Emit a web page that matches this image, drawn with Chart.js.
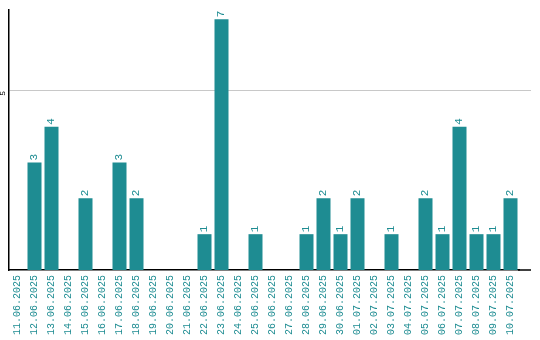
<!DOCTYPE html>
<html>
<head>
<meta charset="utf-8">
<script src="https://cdn.jsdelivr.net/npm/chart.js@4.4.0/dist/chart.umd.min.js"></script>
<style>
  html, body { margin: 0; padding: 0; background: #fff; }
  #wrap { width: 540px; height: 340px; }
</style>
</head>
<body>
<div id="wrap"><canvas id="canvas"></canvas></div>
<script>
const days = ['11.06.2025', '12.06.2025', '13.06.2025', '14.06.2025', '15.06.2025', '16.06.2025',
    '17.06.2025', '18.06.2025', '19.06.2025', '20.06.2025', '21.06.2025', '22.06.2025',
    '23.06.2025', '24.06.2025', '25.06.2025', '26.06.2025', '27.06.2025', '28.06.2025',
    '29.06.2025', '30.06.2025', '01.07.2025', '02.07.2025', '03.07.2025', '04.07.2025',
    '05.07.2025', '06.07.2025', '07.07.2025', '08.07.2025', '09.07.2025', '10.07.2025'];
const counts = [0, 3, 4, 0, 2, 0, 3, 2, 0, 0, 0, 1, 7, 0, 1, 0, 0, 1, 2, 1, 2, 0, 1, 0, 2, 1, 4, 1, 1, 2];
const yTicks = [5];

const teal = '#1e8c92';
const mono = '"Liberation Mono", "DejaVu Sans Mono", monospace';

// value on top of each bar, turned upright like the axis labels
const barValues = {
    id: 'barValues',
    afterDatasetsDraw(chart) {
        const c = chart.ctx;
        const meta = chart.getDatasetMeta(0);
        c.save();
        c.fillStyle = teal;
        c.font = '11px ' + mono;
        c.textAlign = 'left';
        c.textBaseline = 'middle';
        meta.data.forEach((bar, i) => {
            if (!counts[i]) return;
            c.save();
            c.translate(bar.x, bar.y - 2);
            c.rotate(-Math.PI / 2);
            c.fillText(String(counts[i]), 0, 0);
            c.restore();
        });
        c.restore();
    }
};

// the lone y label (turned) and the base line running on past the last day
const axisExtras = {
    id: 'axisExtras',
    afterDraw(chart) {
        const c = chart.ctx;
        const y = chart.scales.y;
        const area = chart.chartArea;
        c.save();
        c.strokeStyle = '#000';
        c.lineWidth = 1.5;
        c.beginPath();
        c.moveTo(area.right - 1, area.bottom);
        c.lineTo(chart.width - 9, area.bottom);
        c.stroke();
        c.fillStyle = '#000';
        c.font = '8px ' + mono;
        c.textAlign = 'right';
        c.textBaseline = 'bottom';
        yTicks.forEach(v => {
            c.save();
            c.translate(y.left - 2, y.getPixelForValue(v));
            c.rotate(-Math.PI / 2);
            c.fillText(String(v), 0, 0);
            c.restore();
        });
        c.restore();
    }
};

// grid line at 5 also runs across the full width
const gridExtend = {
    id: 'gridExtend',
    beforeDatasetsDraw(chart) {
        const c = chart.ctx;
        const y = chart.scales.y;
        const area = chart.chartArea;
        c.save();
        c.strokeStyle = '#c8c8c8';
        c.lineWidth = 1;
        yTicks.forEach(v => {
            const py = Math.round(y.getPixelForValue(v) - 0.5) + 0.5;
            c.beginPath();
            c.moveTo(area.right - 1, py);
            c.lineTo(chart.width - 9, py);
            c.stroke();
        });
        c.restore();
    }
};

new Chart(document.getElementById('canvas'), {
    type: 'bar',
    data: {
        labels: days,
        datasets: [{
            data: counts,
            backgroundColor: teal,
            barPercentage: 14 / 17,
            categoryPercentage: 1
        }]
    },
    options: {
        responsive: true,
        maintainAspectRatio: false,
        animation: false,
        layout: { padding: { left: 9, right: 21, top: 10, bottom: 0 } },
        plugins: { legend: { display: false }, tooltip: { enabled: false } },
        scales: {
            x: {
                afterFit: s => { s.height = 70; },
                grid: { display: false, drawTicks: false },
                border: { color: '#000', width: 1.5 },
                ticks: {
                    color: teal,
                    font: { family: mono, size: 10 },
                    minRotation: 90,
                    maxRotation: 90,
                    autoSkip: false,
                    padding: 5
                }
            },
            y: {
                min: 0,
                max: 7.26,
                afterFit: s => { s.width = 0; },
                afterBuildTicks: scale => { scale.ticks = yTicks.map(v => ({ value: v })); },
                grid: { color: '#c8c8c8', drawTicks: false },
                border: { color: '#000', width: 1.5 },
                ticks: { display: false }
            }
        }
    },
    plugins: [barValues, axisExtras, gridExtend]
});
</script>
</body>
</html>
